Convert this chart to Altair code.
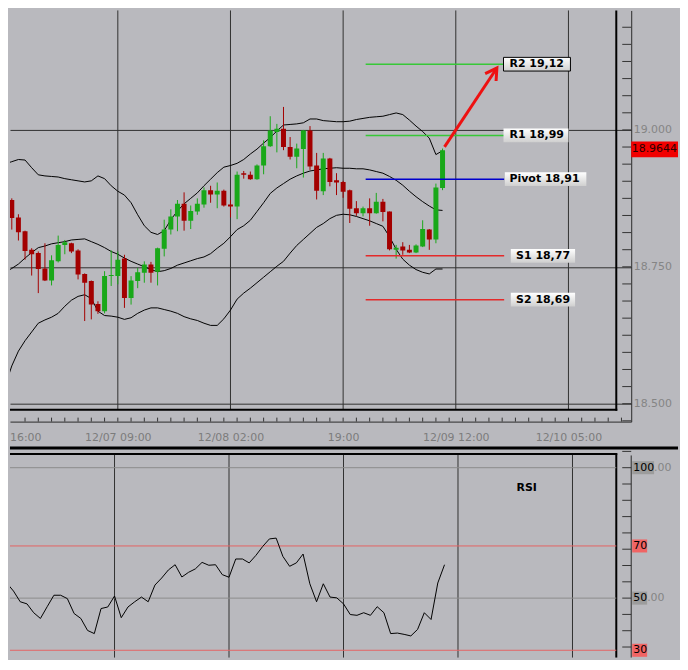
import altair as alt
import pandas as pd

# ---------------- data ----------------
# hour index: 0 = 12/07 09:00 (one candle per hour)
hours = list(range(-16, 50))
opens = [18.872, 18.840, 18.815, 18.781, 18.775, 18.747, 18.725, 18.760, 18.790, 18.793,
         18.780, 18.737, 18.724, 18.682, 18.669, 18.733,
         18.733, 18.765, 18.693, 18.724, 18.739, 18.754, 18.741, 18.783, 18.818, 18.842,
         18.865, 18.834, 18.851, 18.864, 18.890, 18.882, 18.889, 18.864, 18.860, 18.921,
         18.918, 18.910, 18.935, 18.970, 18.996, 19.002, 18.969, 18.951, 18.965, 18.999,
         18.935, 18.888, 18.948, 18.908, 18.905, 18.890, 18.857, 18.848, 18.857, 18.848,
         18.869, 18.851, 18.781, 18.787, 18.781, 18.776, 18.787, 18.818, 18.800, 18.894]
highs = [18.875, 18.846, 18.816, 18.784, 18.778, 18.793, 18.771, 18.807, 18.799, 18.794,
         18.782, 18.738, 18.725, 18.687, 18.742, 18.780,
         18.778, 18.772, 18.733, 18.748, 18.760, 18.759, 18.785, 18.836, 18.855, 18.872,
         18.886, 18.862, 18.875, 18.895, 18.898, 18.904, 18.891, 18.872, 18.924, 18.925,
         18.924, 18.937, 18.981, 19.025, 19.011, 19.042, 18.987, 18.975, 19.000, 19.007,
         18.958, 18.958, 18.949, 18.921, 18.907, 18.891, 18.870, 18.860, 18.875, 18.885,
         18.874, 18.851, 18.790, 18.795, 18.790, 18.791, 18.835, 18.819, 18.902, 18.966]
lows = [18.818, 18.798, 18.763, 18.734, 18.702, 18.724, 18.716, 18.758, 18.773, 18.775,
        18.727, 18.651, 18.654, 18.664, 18.665, 18.715,
        18.718, 18.675, 18.681, 18.711, 18.721, 18.721, 18.716, 18.769, 18.809, 18.815,
        18.816, 18.819, 18.845, 18.858, 18.867, 18.857, 18.860, 18.840, 18.837, 18.911,
        18.909, 18.909, 18.919, 18.969, 18.959, 18.963, 18.946, 18.930, 18.913, 18.927,
        18.873, 18.881, 18.897, 18.881, 18.876, 18.830, 18.843, 18.842, 18.825, 18.847,
        18.833, 18.780, 18.765, 18.772, 18.775, 18.775, 18.786, 18.781, 18.793, 18.890]
closes = [18.839, 18.813, 18.779, 18.773, 18.746, 18.725, 18.762, 18.790, 18.795, 18.778,
          18.736, 18.721, 18.681, 18.669, 18.733, 18.735,
          18.763, 18.693, 18.725, 18.740, 18.754, 18.739, 18.784, 18.818, 18.842, 18.865,
          18.834, 18.852, 18.865, 18.890, 18.882, 18.889, 18.862, 18.860, 18.918, 18.918,
          18.910, 18.935, 18.970, 18.999, 19.002, 18.969, 18.951, 18.966, 18.999, 18.933,
          18.889, 18.948, 18.905, 18.904, 18.887, 18.856, 18.848, 18.857, 18.848, 18.869,
          18.850, 18.782, 18.785, 18.780, 18.776, 18.789, 18.819, 18.800, 18.895, 18.963]

band_hours = list(range(-17, 50))
upper_band = [18.938, 18.942, 18.946, 18.945, 18.931, 18.918, 18.916, 18.915, 18.914, 18.911,
              18.909, 18.907, 18.905, 18.907, 18.916, 18.911, 18.898,
              18.888, 18.881, 18.867, 18.845, 18.825, 18.813, 18.809, 18.816, 18.836, 18.852,
              18.865, 18.875, 18.885, 18.898, 18.910, 18.922, 18.932, 18.935, 18.939, 18.946,
              18.956, 18.965, 18.976, 18.986, 18.998, 19.009, 19.010, 19.011, 19.013, 19.020,
              19.020, 19.017, 19.016, 19.015, 19.015, 19.016, 19.019, 19.021, 19.023, 19.024,
              19.025, 19.028, 19.031, 19.028, 19.018, 19.007, 18.997, 18.985, 18.955, 18.962]
middle_band = [18.740, 18.747, 18.755, 18.766, 18.776, 18.785, 18.788, 18.792, 18.794, 18.796,
               18.799, 18.800, 18.801, 18.796, 18.791, 18.785, 18.778,
               18.773, 18.766, 18.760, 18.755, 18.750, 18.745, 18.741, 18.743, 18.747, 18.753,
               18.757, 18.761, 18.765, 18.768, 18.774, 18.784, 18.793, 18.805, 18.818, 18.825,
               18.835, 18.851, 18.867, 18.884, 18.894, 18.902, 18.910, 18.916, 18.921, 18.925,
               18.927, 18.929, 18.930, 18.931, 18.930, 18.930, 18.929, 18.929, 18.927, 18.924,
               18.921, 18.915, 18.908, 18.899, 18.888, 18.878, 18.869, 18.861, 18.854, 18.853]
lower_band = [18.533, 18.569, 18.596, 18.615, 18.631, 18.647, 18.653, 18.658, 18.665, 18.678,
              18.689, 18.696, 18.699, 18.692, 18.669, 18.661, 18.660,
              18.658, 18.654, 18.657, 18.665, 18.671, 18.675, 18.675, 18.672, 18.669, 18.665,
              18.659, 18.655, 18.652, 18.647, 18.643, 18.643, 18.655, 18.671, 18.691, 18.702,
              18.711, 18.721, 18.731, 18.741, 18.751, 18.760, 18.775, 18.789, 18.800, 18.811,
              18.822, 18.829, 18.838, 18.844, 18.846, 18.845, 18.842, 18.838, 18.834, 18.829,
              18.824, 18.805, 18.782, 18.764, 18.753, 18.745, 18.740, 18.737, 18.746, 18.746]

rsi_hours = list(range(-17, 50))
rsi_values = [60.9, 55.8, 52.7, 48.6, 47.8, 44.4, 42.2, 46.7, 51.1, 51.1,
              49.8, 44.1, 42.2, 37.6, 36.4, 46.0, 46.6,
              50.8, 42.5, 46.6, 48.6, 50.4, 48.6, 55.0, 57.7, 60.8, 62.8,
              58.1, 59.9, 61.2, 63.7, 62.6, 62.8, 59.0, 58.0, 65.0, 65.0,
              63.5, 66.4, 69.8, 72.7, 73.0, 66.0, 62.2, 63.5, 66.9, 55.5,
              48.6, 55.5, 50.4, 50.1, 47.8, 43.7, 43.4, 44.4, 43.4, 46.7,
              44.4, 36.4, 36.6, 36.1, 35.5, 38.0, 44.4, 41.8, 55.8, 62.8]

axis_hours = [0, 17, 34, 51, 68]
axis_labels = ["12/07 09:00", "12/08 02:00", "19:00", "12/09 12:00", "12/10 05:00"]
first_label = "16:00"

price_label_values = [18.5, 18.75, 19.0]
last_price = 18.9644

pivot_names = ["R2", "R1", "Pivot", "S1", "S2"]
pivot_levels = [19.12, 18.99, 18.91, 18.77, 18.69]
pivot_texts = ["R2 19,12", "R1 18,99", "Pivot 18,91", "S1 18,77", "S2 18,69"]

rsi_levels = [100, 70, 50, 30]
rsi_level_texts = ["100", "70", "50", "30"]
rsi_level_suffix = [".00", "", ".00", ""]

# ---------------- styling / layout ----------------
BG = "#b9b9be"
GREEN = "#19a819"
RED = "#a30000"
GRID = "#303030"
LABEL_GRAY = "#7c7c7c"
FONT = "DejaVu Sans"

W = 624
H_TOP = 413
H_RSI = 212
X_DOMAIN = [-15.52, 76.72]
P_DOMAIN = [18.4673, 19.2182]
R_DOMAIN = [27.21, 108.13]

xs = alt.Scale(domain=X_DOMAIN, nice=False, zero=False)
ps = alt.Scale(domain=P_DOMAIN, nice=False, zero=False)
rs = alt.Scale(domain=R_DOMAIN, nice=False, zero=False)

parts = [f"datum.value < {h + 1} ? '{lab}'" for h, lab in zip(axis_hours, axis_labels)]
label_expr = " : ".join(parts) + " : ''"

x_axis = alt.Axis(values=axis_hours, labelExpr=label_expr, title=None,
                  grid=False, ticks=False, domain=True, domainColor="#2a2a2a",
                  labelColor=LABEL_GRAY, labelFont=FONT, labelFontSize=11,
                  labelPadding=10, labelOverlap=False, orient="bottom")
p_axis = alt.Axis(values=price_label_values, format=".3f", title=None, orient="right",
                  grid=True, gridColor=GRID, gridWidth=1, ticks=False, domain=True,
                  domainColor="#2a2a2a", labelColor="#858585", labelFont=FONT,
                  labelFontSize=11, labelPadding=2, labelBaseline="middle")


def X(f):
    return alt.X(f, type="quantitative", scale=xs, axis=x_axis)


def P(f):
    return alt.Y(f, type="quantitative", scale=ps, axis=p_axis)


def XR(f):
    return alt.X(f, type="quantitative", scale=xs, axis=None)


def R(f):
    return alt.Y(f, type="quantitative", scale=rs, axis=None)


one = pd.DataFrame({"d": [0]})

candles = pd.DataFrame({"h": hours, "open": opens, "high": highs, "low": lows, "close": closes})
candles["color"] = [GREEN if c >= o else RED for o, c in zip(opens, closes)]

bands = pd.concat([
    pd.DataFrame({"h": band_hours, "p": upper_band, "band": "upper"}),
    pd.DataFrame({"h": band_hours, "p": middle_band, "band": "middle"}),
    pd.DataFrame({"h": band_hours, "p": lower_band, "band": "lower"}),
])

pivots = pd.DataFrame({"name": pivot_names, "level": pivot_levels, "text": pivot_texts})
pivots["color"] = ["#37c837", "#37c837", "#0000cc", "#e42a2a", "#e42a2a"]
pivots["x0"] = 37.4
pivots["x1"] = 58.3
pivots["bx0"] = [58.2, 58.2, 58.4, 59.3, 59.3]
pivots["bx1"] = [68.3, 68.0, 70.7, 69.0, 69.0]
pivots["tx"] = [59.1, 59.1, 59.1, 60.1, 60.1]
pivots["by0"] = pivots["level"] + 0.0125
pivots["by1"] = pivots["level"] - 0.0125

arrow = pd.DataFrame({"h": [49.3, 57.2], "p": [18.969, 19.113]})

last = pd.DataFrame({"p": [last_price], "p0": [last_price + 0.0145],
                     "p1": [last_price - 0.0145], "t": [f"{last_price:.4f}"]})

price_ticks = pd.DataFrame({"p": [18.46875 + 0.03125 * i for i in range(24)]})
hour_ticks = pd.DataFrame({"h": list(range(-14, 77, 2))})

# ---------------- top (price) panel ----------------
vgrid = alt.Chart(pd.DataFrame({"h": axis_hours})).mark_rule(color=GRID, strokeWidth=1).encode(
    x=X("h"), y=alt.value(0), y2=alt.value(401))
frame_r = alt.Chart(one).mark_rule(color="black", strokeWidth=2).encode(
    x=alt.value(609), y=alt.value(0), y2=alt.value(402))
frame_b = alt.Chart(one).mark_rule(color="black", strokeWidth=2).encode(
    y=alt.value(401), x=alt.value(0), x2=alt.value(610))
pticks = alt.Chart(price_ticks).mark_rule(color="#333333").encode(
    y=P("p"), x=alt.value(615), x2=alt.value(624))
hticks = alt.Chart(hour_ticks).mark_rule(color="#333333").encode(
    x=X("h"), y=alt.value(409), y2=alt.value(413))
first_lab = alt.Chart(pd.DataFrame({"t": [first_label]})).mark_text(
    align="left", baseline="top", font=FONT, fontSize=11, color=LABEL_GRAY).encode(
    x=alt.value(0), y=alt.value(423), text="t:N")
band_lines = alt.Chart(bands).mark_line(color="black", strokeWidth=1, clip=True).encode(
    x=X("h"), y=P("p"), detail="band:N")
wicks = alt.Chart(candles).mark_rule(strokeWidth=1, clip=True).encode(
    x=X("h"), y=P("low"), y2="high", color=alt.Color("color:N", scale=None))
bodies = alt.Chart(candles).mark_bar(size=5, clip=True).encode(
    x=X("h"), y=P("open"), y2="close", color=alt.Color("color:N", scale=None))
pivot_lines = alt.Chart(pivots).mark_rule(strokeWidth=1.5).encode(
    x=X("x0"), x2="x1", y=P("level"), color=alt.Color("color:N", scale=None))
grad = alt.LinearGradient(gradient="linear",
                          stops=[alt.GradientStop(color="#ffffff", offset=0),
                                 alt.GradientStop(color="#cfcfcf", offset=1)],
                          x1=0, x2=0, y1=0, y2=1)
label_boxes = alt.Chart(pivots).mark_rect(fill=grad, stroke="black", strokeWidth=1).encode(
    x=X("bx0"), x2="bx1", y=P("by0"), y2="by1",
    strokeOpacity=alt.condition("datum.name == 'R2'", alt.value(1), alt.value(0)))
label_texts = alt.Chart(pivots).mark_text(align="left", baseline="middle", font=FONT,
                                          fontWeight="bold", fontSize=11, color="black").encode(
    x=X("tx"), y=P("level"), text="text:N")
arrow_line = alt.Chart(arrow).mark_line(color="#ee1111", strokeWidth=3).encode(x=X("h"), y=P("p"))
arrow_head = alt.Chart(arrow.tail(1)).mark_point(
    shape="M-0.5,0.85L0,0L0.5,0.85", angle=34, size=700, filled=False,
    color="#ee1111", strokeWidth=3, opacity=1).encode(x=X("h"), y=P("p"))
last_box = alt.Chart(last).mark_rect(color="#f20000").encode(
    x=alt.value(624), x2=alt.value(671), y=P("p0"), y2="p1")
last_text = alt.Chart(last).mark_text(align="left", baseline="middle", font=FONT, fontSize=11,
                                      color="#2a0000").encode(
    x=alt.value(624.5), y=P("p"), text="t:N")

top = alt.layer(vgrid, frame_r, frame_b, pticks, hticks, first_lab, band_lines, wicks, bodies,
                pivot_lines, label_boxes, label_texts, arrow_line, arrow_head,
                last_box, last_text).properties(width=W, height=H_TOP)

# ---------------- RSI panel ----------------
rsi_df = pd.DataFrame({"h": rsi_hours, "v": rsi_values})
lvl = pd.DataFrame({"v": rsi_levels, "t": rsi_level_texts, "s": rsi_level_suffix})
lvl["col"] = ["#8c8c8c", "#e46464", "#8c8c8c", "#e46464"]
lvl["bg"] = ["#9c9c9c", "#f06464", "#9c9c9c", "#f06464"]
lvl["v0"] = lvl["v"] + 2.5
lvl["v1"] = lvl["v"] - 2.5
lvl["n"] = [len(t) for t in rsi_level_texts]
rsi_ticks = pd.DataFrame({"v": [31.25 + 6.25 * i for i in range(13)]})

sep = alt.Chart(one).mark_rule(color="black", strokeWidth=3).encode(
    y=alt.value(1.5), x=alt.value(0), x2=alt.value(671))
rframe_t = alt.Chart(one).mark_rule(color="black", strokeWidth=2).encode(
    y=alt.value(7.5), x=alt.value(0), x2=alt.value(610))
rframe_r = alt.Chart(one).mark_rule(color="black", strokeWidth=2).encode(
    x=alt.value(609), y=alt.value(7), y2=alt.value(H_RSI))
raxis = alt.Chart(one).mark_rule(color="#2a2a2a").encode(
    x=alt.value(624), y=alt.value(9), y2=alt.value(H_RSI))
rticks = alt.Chart(rsi_ticks).mark_rule(color="#333333").encode(
    y=R("v"), x=alt.value(615), x2=alt.value(624))
rvgrid = alt.Chart(pd.DataFrame({"h": axis_hours})).mark_rule(color=GRID).encode(
    x=XR("h"), y=alt.value(8.5), y2=alt.value(H_RSI))
rlevels = alt.Chart(lvl).mark_rule(strokeWidth=1).encode(
    y=R("v"), x=alt.value(0), x2=alt.value(609), color=alt.Color("col:N", scale=None))
rline = alt.Chart(rsi_df).mark_line(color="black", strokeWidth=1, clip=True).encode(
    x=XR("h"), y=R("v"))
box3 = alt.Chart(lvl).transform_filter("datum.n == 3").mark_rect().encode(
    x=alt.value(625), x2=alt.value(647), y=R("v0"), y2="v1", color=alt.Color("bg:N", scale=None))
box2 = alt.Chart(lvl).transform_filter("datum.n == 2").mark_rect().encode(
    x=alt.value(625), x2=alt.value(640), y=R("v0"), y2="v1", color=alt.Color("bg:N", scale=None))
ltxt = alt.Chart(lvl).mark_text(align="left", baseline="middle", font=FONT, fontSize=11,
                                color="black").encode(x=alt.value(626), y=R("v"), text="t:N")
suf3 = alt.Chart(lvl).transform_filter("datum.n == 3").mark_text(
    align="left", baseline="middle", font=FONT, fontSize=11, color="#858585").encode(
    x=alt.value(647), y=R("v"), text="s:N")
suf2 = alt.Chart(lvl).transform_filter("datum.n == 2").mark_text(
    align="left", baseline="middle", font=FONT, fontSize=11, color="#858585").encode(
    x=alt.value(640), y=R("v"), text="s:N")
rsi_title = alt.Chart(pd.DataFrame({"t": ["RSI"]})).mark_text(
    font=FONT, fontSize=11, fontWeight="bold", color="black").encode(
    x=alt.value(519), y=alt.value(42), text="t:N")

bottom = alt.layer(sep, rframe_t, rframe_r, raxis, rticks, rvgrid, rlevels, rline,
                   box3, box2, ltxt, suf3, suf2, rsi_title).properties(width=W, height=H_RSI)

chart = alt.vconcat(top, bottom, spacing=4).properties(
    background=BG, padding={"left": 0, "top": 0, "right": 0, "bottom": 0}
).configure_view(strokeWidth=0)

chart.save("out.html", embed_options={"renderer": "svg", "actions": False})
